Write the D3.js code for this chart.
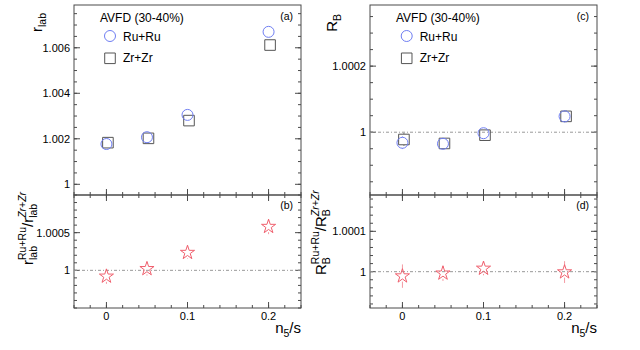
<!DOCTYPE html>
<html>
<head>
<meta charset="utf-8">
<script src="https://cdn.jsdelivr.net/npm/d3@7"></script>
<style>
  html, body { margin: 0; padding: 0; background: #fff; }
  svg text { font-family: "Liberation Sans", Arial, Helvetica, sans-serif; fill: #000; }
</style>
</head>
<body>
<svg id="chart" width="640" height="350"></svg>
<script>
/* AVFD (30-40%) -- r_lab and R_B vs n5/s, Ru+Ru vs Zr+Zr */

// ---- data ----
const n5s = [0, 0.05, 0.1, 0.2];

const rlabRu = [1.00177, 1.00207, 1.00305, 1.0067];
const rlabZr = [1.00183, 1.00202, 1.00280, 1.00612];
const rlabErr = [0.00003, 0.00003, 0.00003, 0.00003];
const rlabRatio = [0.99992, 1.00002, 1.000235, 1.00058];
const rlabRatioErr = [0.0001, 0.00009, 0.00008, 0.0001];

const rbRu = [0.999968, 0.999965, 0.999997, 1.000048];
const rbZr = [0.999978, 0.999966, 0.999991, 1.000048];
const rbErr = [0.000019, 0.000012, 0.000012, 0.000018];
const rbRatio = [0.999989, 0.999996, 1.000008, 0.999999];
const rbRatioErr = [0.000029, 0.000019, 0.000017, 0.000027];

const xTicks = [0, 0.1, 0.2];
const xTickLabels = ['0', '0.1', '0.2'];
const rlabTicks = [1, 1.002, 1.004, 1.006];
const rlabTickLabels = ['1', '1.002', '1.004', '1.006'];
const rlabRatioTicks = [1, 1.0005];
const rlabRatioTickLabels = ['1', '1.0005'];
const rbTicks = [1, 1.0002];
const rbTickLabels = ['1', '1.0002'];
const rbRatioTicks = [1, 1.0001];
const rbRatioTickLabels = ['1', '1.0001'];

const seriesNames = ['Ru+Ru', 'Zr+Zr'];
const legendTitle = 'AVFD (30-40%)';

// ---- style ----
const FRAME = '#4a4a4a';
const BLUE = '#6f7ef2';
const GRAY = '#555';
const RED = '#f0606e';
const RED_ERR = '#f49aa3';
const FONT_TICK = 11;
const ZR_SHIFT = 1.5; // px, Zr markers drawn slightly right

const svg = d3.select('#chart');

// geometry of the two columns
const cols = [
  { x0: 74, x1: 301 },
  { x0: 370, x1: 597 }
];
const TOP = 5, MID = 195, BOT = 308;

function minorRange(lo, hi, step) {
  const out = [];
  const n0 = Math.ceil(lo / step - 1e-9), n1 = Math.floor(hi / step + 1e-9);
  for (let i = n0; i <= n1; i++) out.push(+(i * step).toFixed(10));
  return out;
}

// stacked sub/superscript label, rotated -90
function rotLabel(baseX, yPos, anchor, parts) {
  const outer = svg.append('g');
  const g = outer.append('g');
  let cx = 0;
  parts.forEach(p => {
    if (p.base) {
      const t = g.append('text').attr('x', cx).attr('y', 0)
        .style('font-size', p.size + 'px').text(p.base);
      cx += t.node().getComputedTextLength();
    } else {
      let w = 0;
      if (p.sup) {
        const t = g.append('text').attr('x', cx).attr('y', -p.supShift)
          .style('font-size', p.size + 'px')
          .style('font-style', p.supItalic ? 'italic' : 'normal').text(p.sup);
        w = Math.max(w, t.node().getComputedTextLength());
      }
      if (p.sub) {
        const t = g.append('text').attr('x', cx).attr('y', p.subShift)
          .style('font-size', p.size + 'px').text(p.sub);
        w = Math.max(w, t.node().getComputedTextLength());
      }
      cx += w;
    }
  });
  const ty = anchor === 'end' ? yPos + cx : yPos;
  outer.attr('transform', `translate(${baseX},${ty}) rotate(-90)`);
}

function drawPanel(o) {
  const { x, y, yTicks, yTickLabels, yMinorStep, top, bottom, showTop } = o;
  const [xa, xb] = x.range();
  const g = svg.append('g');

  // frame
  g.append('rect').attr('x', xa).attr('y', top).attr('width', xb - xa).attr('height', bottom - top)
    .attr('fill', 'none').attr('stroke', FRAME).attr('stroke-width', 1);

  // y ticks (left and right)
  const yMin = minorRange(y.domain()[0], y.domain()[1], yMinorStep);
  const yt = g.append('g').attr('stroke', FRAME).attr('stroke-width', 1);
  yt.selectAll('.ym').data(yMin).join('line')
    .attr('x1', xa).attr('x2', xa + 3).attr('y1', d => y(d)).attr('y2', d => y(d));
  yt.selectAll('.ymr').data(yMin).join('line')
    .attr('x1', xb).attr('x2', xb - 3).attr('y1', d => y(d)).attr('y2', d => y(d));
  yt.selectAll('.yM').data(yTicks).join('line')
    .attr('x1', xa).attr('x2', xa + 6).attr('y1', d => y(d)).attr('y2', d => y(d));
  yt.selectAll('.yMr').data(yTicks).join('line')
    .attr('x1', xb).attr('x2', xb - 6).attr('y1', d => y(d)).attr('y2', d => y(d));

  g.selectAll('.ylab').data(yTicks).join('text')
    .attr('x', xa - 4).attr('y', d => y(d)).attr('dy', '0.36em')
    .attr('text-anchor', 'end').style('font-size', FONT_TICK + 'px')
    .text((d, i) => yTickLabels[i]);

  // x ticks on bottom edge (pointing up) and optionally top edge (pointing down)
  const xMin = minorRange(x.domain()[0], x.domain()[1], 0.02);
  const xt = g.append('g').attr('stroke', FRAME).attr('stroke-width', 1);
  xt.selectAll('.xm').data(xMin).join('line')
    .attr('x1', d => x(d)).attr('x2', d => x(d)).attr('y1', bottom).attr('y2', bottom - 3);
  xt.selectAll('.xM').data(xTicks).join('line')
    .attr('x1', d => x(d)).attr('x2', d => x(d)).attr('y1', bottom).attr('y2', bottom - 6);
  if (showTop) {
    xt.selectAll('.xmt').data(xMin).join('line')
      .attr('x1', d => x(d)).attr('x2', d => x(d)).attr('y1', top).attr('y2', top + 3);
    xt.selectAll('.xMt').data(xTicks).join('line')
      .attr('x1', d => x(d)).attr('x2', d => x(d)).attr('y1', top).attr('y2', top + 6);
  }

  // reference line at 1
  if (o.refLine) {
    g.append('line').attr('x1', xa).attr('x2', xb).attr('y1', y(1)).attr('y2', y(1))
      .attr('stroke', '#999').attr('stroke-width', 1).attr('stroke-dasharray', '3,2,1,2');
  }
  return g;
}

function errBars(g, x, y, vals, errs, r, color, shift) {
  g.selectAll(null).data(vals).join('path')
    .attr('d', (d, i) => {
      const cx = x(n5s[i]) + (shift || 0), cy = y(d);
      const up = y(d + errs[i]), dn = y(d - errs[i]);
      let p = '';
      if (cy - up > r) p += `M${cx},${up}L${cx},${cy - r}`;
      if (dn - cy > r) p += `M${cx},${cy + r}L${cx},${dn}`;
      return p || 'M0,0';
    })
    .attr('stroke', color).attr('stroke-width', 1).attr('fill', 'none');
}

function circles(g, x, y, vals, shift) {
  g.selectAll(null).data(vals).join('circle')
    .attr('cx', (d, i) => x(n5s[i]) + (shift || 0)).attr('cy', d => y(d)).attr('r', 5.5)
    .attr('fill', 'none').attr('stroke', BLUE).attr('stroke-width', 1);
}
function squares(g, x, y, vals, shift) {
  g.selectAll(null).data(vals).join('path')
    .attr('transform', (d, i) => `translate(${x(n5s[i]) + shift},${y(d)})`)
    .attr('d', d3.symbol(d3.symbolSquare, 112)())
    .attr('fill', 'none').attr('stroke', GRAY).attr('stroke-width', 1);
}
function stars(g, x, y, vals) {
  g.selectAll(null).data(vals).join('path')
    .attr('transform', (d, i) => `translate(${x(n5s[i])},${y(d)})`)
    .attr('d', d3.symbol(d3.symbolStar, 62)())
    .attr('fill', 'none').attr('stroke', RED).attr('stroke-width', 1);
}

function legend(g, xText, xMark, names) {
  g.append('text').attr('x', xText).attr('y', 22).style('font-size', '12px').text(legendTitle);
  g.append('circle').attr('cx', xMark).attr('cy', 36).attr('r', 5.5)
    .attr('fill', 'none').attr('stroke', BLUE);
  g.append('text').attr('x', xMark + 13).attr('y', 40.5).style('font-size', '12px').text(names[0]);
  g.append('path').attr('transform', `translate(${xMark},${58.3})`)
    .attr('d', d3.symbol(d3.symbolSquare, 112)())
    .attr('fill', 'none').attr('stroke', GRAY);
  g.append('text').attr('x', xMark + 13).attr('y', 62).style('font-size', '12px').text(names[1]);
}

function tag(g, xr, yb, s) {
  g.append('text').attr('x', xr).attr('y', yb).attr('text-anchor', 'end')
    .style('font-size', '10.5px').text(s);
}

cols.forEach((c, ci) => {
  const x = d3.scaleLinear().domain([-0.04, 0.24]).range([c.x0, c.x1]);

  const yTop = ci === 0
    ? d3.scaleLinear().domain([0.99953, 1.00788]).range([MID, TOP])
    : d3.scaleLinear().domain([0.99981, 1.000385]).range([MID, TOP]);
  const yBot = ci === 0
    ? d3.scaleLinear().domain([0.9995, 1.001]).range([BOT, MID])
    : d3.scaleLinear().domain([0.99991, 1.00019]).range([BOT, MID]);

  const gTop = drawPanel({
    x, y: yTop, top: TOP, bottom: MID,
    yTicks: ci === 0 ? rlabTicks : rbTicks,
    yTickLabels: ci === 0 ? rlabTickLabels : rbTickLabels,
    yMinorStep: ci === 0 ? 0.0005 : 0.00005,
    showTop: false, refLine: ci === 1
  });
  const gBot = drawPanel({
    x, y: yBot, top: MID, bottom: BOT,
    yTicks: ci === 0 ? rlabRatioTicks : rbRatioTicks,
    yTickLabels: ci === 0 ? rlabRatioTickLabels : rbRatioTickLabels,
    yMinorStep: ci === 0 ? 0.0001 : 0.00002,
    showTop: true, refLine: true
  });

  // x tick labels
  gBot.selectAll('.xl').data(xTicks).join('text')
    .attr('x', d => x(d)).attr('y', 320).attr('text-anchor', 'middle')
    .style('font-size', FONT_TICK + 'px').text((d, i) => xTickLabels[i]);

  // x title
  const xt = gBot.append('text').attr('x', c.x1).attr('y', 333).attr('text-anchor', 'end')
    .style('font-size', '15px');
  xt.append('tspan').text('n');
  xt.append('tspan').attr('dy', 4).style('font-size', '10.5px').text('5');
  xt.append('tspan').attr('dy', -4).text('/s');

  const ru = ci === 0 ? rlabRu : rbRu;
  const zr = ci === 0 ? rlabZr : rbZr;
  const er = ci === 0 ? rlabErr : rbErr;
  errBars(gTop, x, yTop, zr, er, 5.5, GRAY, ZR_SHIFT);
  errBars(gTop, x, yTop, ru, er, 5.5, BLUE, 0);
  squares(gTop, x, yTop, zr, ZR_SHIFT);
  circles(gTop, x, yTop, ru, 0);

  const rat = ci === 0 ? rlabRatio : rbRatio;
  const rer = ci === 0 ? rlabRatioErr : rbRatioErr;
  errBars(gBot, x, yBot, rat, rer, 5.5, RED_ERR, 0);
  stars(gBot, x, yBot, rat);

  legend(gTop, ci === 0 ? 100 : 396, ci === 0 ? 110 : 406.7, seriesNames);
  tag(gTop, c.x1 - 8, 20, ci === 0 ? '(a)' : '(c)');
  tag(gBot, c.x1 - 8, 209, ci === 0 ? '(b)' : '(d)');
});

// y titles
rotLabel(42, 13, 'end', [
  { base: 'r', size: 15 },
  { sub: 'lab', size: 10.5, subShift: 4 }
]);
rotLabel(337, 14, 'end', [
  { base: 'R', size: 15 },
  { sub: 'B', size: 10.5, subShift: 4 }
]);
rotLabel(33, 265, 'start', [
  { base: 'r', size: 15 },
  { sup: 'Ru+Ru', sub: 'lab', size: 10.5, supShift: 7, subShift: 4 },
  { base: '/r', size: 15 },
  { sup: 'Zr+Zr', sub: 'lab', size: 10.5, supShift: 7, subShift: 4, supItalic: true }
]);
rotLabel(326, 275, 'start', [
  { base: 'R', size: 15 },
  { sup: 'Ru+Ru', sub: 'B', size: 10.5, supShift: 7, subShift: 4 },
  { base: '/R', size: 15 },
  { sup: 'Zr+Zr', sub: 'B', size: 10.5, supShift: 7, subShift: 4, supItalic: true }
]);
</script>
</body>
</html>
